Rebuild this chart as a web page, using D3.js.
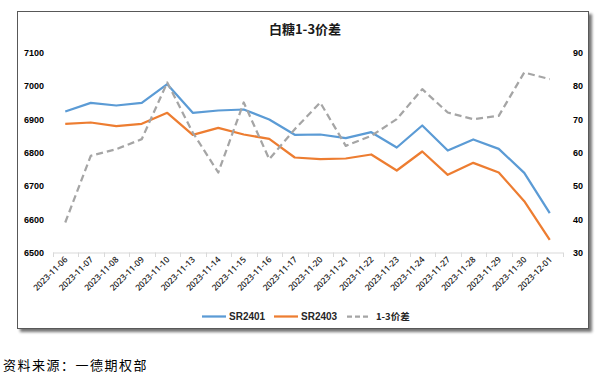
<!DOCTYPE html>
<html><head><meta charset="utf-8">
<script src="https://cdn.jsdelivr.net/npm/d3@7/dist/d3.min.js"></script>
<style>
html,body{margin:0;padding:0;background:#fff;}
svg{display:block;}
</style></head>
<body>
<svg id="c" width="611" height="378"></svg>
<script>
const dates = ["2023-11-06","2023-11-07","2023-11-08","2023-11-09","2023-11-10","2023-11-13","2023-11-14","2023-11-15","2023-11-16","2023-11-17","2023-11-20","2023-11-21","2023-11-22","2023-11-23","2023-11-24","2023-11-27","2023-11-28","2023-11-29","2023-11-30","2023-12-01"];
const sr2401 = [6923,6949,6941,6949,7005,6919,6926,6929,6899,6853,6854,6843,6861,6815,6881,6806,6839,6811,6739,6618];
const sr2403 = [6886,6890,6879,6886,6919,6853,6874,6854,6841,6785,6780,6782,6794,6746,6803,6733,6769,6740,6654,6538];
const spread = [39,59,61,64,81,66,54,75,58,67,75,62,65,70,79,72,70,71,84,82];
const leftTicks = [6500,6600,6700,6800,6900,7000,7100];
const rightTicks = [30,40,50,60,70,80,90];
const seriesNames = ["SR2401","SR2403","1-3价差"];
const colors = ["#5B9BD5","#ED7D31","#A5A5A5"];

const svg = d3.select("#c");
const defs = svg.append("defs");
const f = defs.append("filter").attr("id","sh").attr("x","-5%").attr("y","-5%").attr("width","115%").attr("height","115%");
f.append("feGaussianBlur").attr("in","SourceAlpha").attr("stdDeviation",1.6);
f.append("feOffset").attr("dx",3).attr("dy",3).attr("result","o");
f.append("feComponentTransfer").append("feFuncA").attr("type","linear").attr("slope",0.55);
const m = f.append("feMerge"); m.append("feMergeNode"); m.append("feMergeNode").attr("in","SourceGraphic");

svg.append("rect").attr("x",17.5).attr("y",11.5).attr("width",571).attr("height",317)
  .attr("fill","#fff").attr("stroke","#595959").attr("stroke-width",1).attr("filter","url(#sh)");

const x = d3.scaleBand().domain(dates).range([52.5,562.5]);
const yL = d3.scaleLinear().domain([6500,7100]).range([252.5,52.5]);
const yR = d3.scaleLinear().domain([30,90]).range([252.5,52.5]);

svg.append("text").attr("x",305).attr("y",34).attr("text-anchor","middle")
  .attr("font-family","'Noto Sans CJK SC'").attr("font-weight","bold").attr("font-size",13)
  .attr("fill","#1a1a1a").text("白糖1-3价差");

const lab = "'Liberation Sans', Arial, sans-serif";
const gL = svg.append("g").attr("transform","translate(44,0)")
  .call(d3.axisLeft(yL).tickValues(leftTicks).tickSize(0).tickPadding(0).tickFormat(d3.format("d")));
gL.select(".domain").remove();
gL.selectAll("text").attr("font-family",lab).attr("font-weight","bold").attr("font-size",9).attr("fill","#000");

const gR = svg.append("g").attr("transform","translate(573,0)")
  .call(d3.axisRight(yR).tickValues(rightTicks).tickSize(0).tickPadding(0));
gR.select(".domain").remove();
gR.selectAll("text").attr("font-family",lab).attr("font-weight","bold").attr("font-size",9).attr("fill","#000");

const gX = svg.append("g").attr("transform","translate(0,252.5)")
  .call(d3.axisBottom(x).tickSize(0).tickFormat(""));
gX.select(".domain").attr("stroke","#d9d9d9");
const bounds = dates.map(d=>x(d)).concat([x.range()[1]]);
svg.append("g").selectAll("line").data(bounds).join("line")
  .attr("x1",d=>Math.round(d)+0.5).attr("x2",d=>Math.round(d)+0.5).attr("y1",252.5).attr("y2",257)
  .attr("stroke","#d9d9d9");
svg.append("g").selectAll("text").data(dates).join("text")
  .attr("transform",d=>`translate(${x(d)+x.bandwidth()/2+3},${260}) rotate(-45)`)
  .attr("text-anchor","end").attr("font-family","'Open Sans'").attr("font-weight",600).attr("font-size",8.5).attr("fill","#262626")
  .text(d=>d);

const cx = d=>x(d)+x.bandwidth()/2;
const lineL = d3.line().x((v,i)=>cx(dates[i])).y(v=>yL(v));
const lineR = d3.line().x((v,i)=>cx(dates[i])).y(v=>yR(v));
svg.append("path").datum(sr2401).attr("d",lineL).attr("fill","none").attr("stroke",colors[0]).attr("stroke-width",2.25).attr("stroke-linejoin","round");
svg.append("path").datum(sr2403).attr("d",lineL).attr("fill","none").attr("stroke",colors[1]).attr("stroke-width",2.25).attr("stroke-linejoin","round");
svg.append("path").datum(spread).attr("d",lineR).attr("fill","none").attr("stroke",colors[2]).attr("stroke-width",2.25).attr("stroke-dasharray","7,4").attr("stroke-linejoin","round");

const lx = [202,274,347];
const lg = svg.append("g");
seriesNames.forEach((n,i)=>{
  lg.append("line").attr("x1",lx[i]).attr("x2",lx[i]+24).attr("y1",316.5).attr("y2",316.5)
    .attr("stroke",colors[i]).attr("stroke-width",2.25).attr("stroke-dasharray",i==2?"5,3":null);
  lg.append("text").attr("x",lx[i]+(i==2?29:27)).attr("y",320).attr("font-family",i==2?"'Noto Sans CJK SC'":lab)
    .attr("font-weight","bold").attr("font-size",i==2?9.5:10).attr("fill","#262626").text(n);
});

svg.append("text").attr("x",3).attr("y",370).attr("font-family","'Noto Sans CJK SC'")
  .attr("font-size",13).attr("letter-spacing",1.5).attr("fill","#000").text("资料来源：一德期权部");
</script>
</body></html>
